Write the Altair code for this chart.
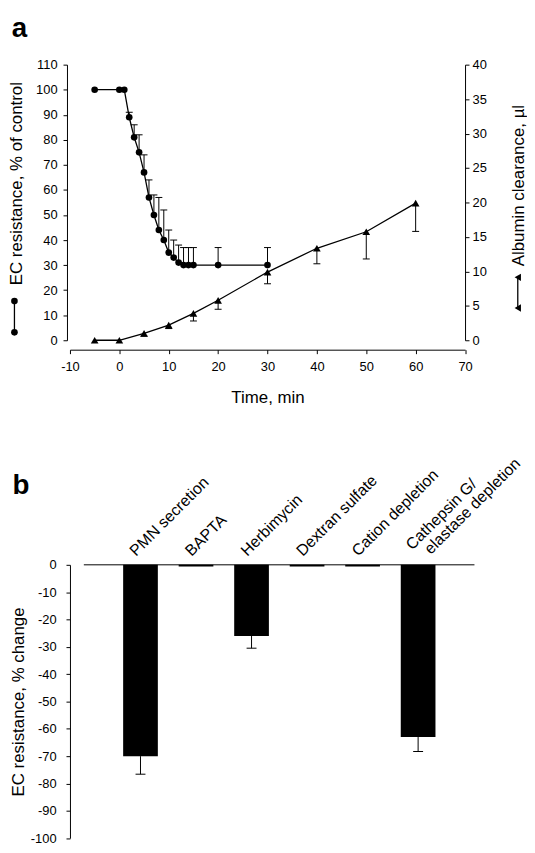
import altair as alt
import pandas as pd

FONT = "Liberation Sans"

# ---------------- Panel a data ----------------
ec_time = [-5, 0, 1, 2, 3, 4, 5, 6, 7, 8, 9, 10, 11, 12, 13, 14, 15, 20, 30]
ec_value = [100, 100, 100, 89, 81, 75, 67, 57, 50, 44, 40, 35, 33, 31, 30, 30, 30, 30, 30]
ec_upper = [None, None, None, 91, 86, 82, 74, 64, 58, 57, 52, 44, 40, 38, 37, 37, 37, 37, 37]

alb_time = [-5, 0, 5, 10, 15, 20, 30, 40, 50, 60]
alb_value = [0, 0, 1.0, 2.2, 3.9, 5.8, 9.9, 13.35, 15.75, 19.9]
alb_lower = [None, None, 0.6, 1.7, 2.8, 4.5, 8.2, 11.1, 11.8, 15.8]

time_ticks = [-10, 0, 10, 20, 30, 40, 50, 60, 70]
left_ticks = [0, 10, 20, 30, 40, 50, 60, 70, 80, 90, 100, 110]
right_ticks = [0, 5, 10, 15, 20, 25, 30, 35, 40]

# ---------------- Panel b data ----------------
treatments = ["PMN secretion", "BAPTA", "Herbimycin", "Dextran sulfate",
              "Cation depletion", "Cathepsin G/ elastase depletion"]
label_line1 = ["PMN secretion", "BAPTA", "Herbimycin", "Dextran sulfate",
               "Cation depletion", "Cathepsin G/"]
label_line2 = ["", "", "", "", "", "elastase depletion"]
change = [-70, -0.6, -26, -0.6, -0.6, -63]
change_low = [-76.6, None, -30.5, None, None, -68.3]
change_ticks = [-100, -90, -80, -70, -60, -50, -40, -30, -20, -10, 0]

# ---------------- tables ----------------
ec_df = pd.DataFrame({"t": ec_time, "v": ec_value, "up": ec_upper})
alb_df = pd.DataFrame({"t": alb_time, "v": alb_value, "lo": alb_lower})
b_df = pd.DataFrame({"cat": treatments, "val": change, "low": change_low,
                     "l1": label_line1, "l2": label_line2})
one = pd.DataFrame({"k": [0]})

PLAIN = "'' + datum.value"   # hyphen-minus labels like the original

# ---------------- Panel a ----------------
W1, H1 = 398.5, 278
xs = alt.Scale(domain=[-10, 70], nice=False)
ys_l = alt.Scale(domain=[0, 110], nice=False)
ys_r = alt.Scale(domain=[0, 40], nice=False)

x_axis = alt.Axis(values=time_ticks, tickCount=len(time_ticks) + 1, offset=9.5,
                  tickSize=4, labelPadding=7,
                  labelFlush=False, labelOverlap=False, labelExpr=PLAIN,
                  title="Time, min", titleY=40, titleBaseline="top")
left_axis = alt.Axis(values=left_ticks, tickCount=len(left_ticks) + 1, offset=3,
                     tickSize=4, labelPadding=6, labelFlush=False,
                     labelOverlap=False, labelExpr=PLAIN,
                     title="EC resistance, % of control",
                     titleAngle=270, titleBaseline="bottom", titleAlign="center",
                     titleX=-42.3, titleY=119.5)
right_axis = alt.Axis(values=right_ticks, tickCount=len(right_ticks) + 1,
                      orient="right", tickSize=4,
                      labelPadding=3, labelFlush=False, labelOverlap=False,
                      labelExpr=PLAIN,
                      title="Albumin clearance, \u00b5l",
                      titleAngle=270, titleBaseline="bottom", titleAlign="center",
                      titleX=63, titleY=121.5)

ec_base = alt.Chart(ec_df)
ec_line = ec_base.mark_line(color="black", strokeWidth=1.3).encode(
    x=alt.X("t:Q", scale=xs, axis=x_axis),
    y=alt.Y("v:Q", scale=ys_l, axis=left_axis),
)
ec_err = ec_base.transform_filter("isValid(datum.up)").mark_rule(
    color="black", strokeWidth=1).encode(
    x=alt.X("t:Q", scale=xs, axis=x_axis),
    y=alt.Y("v:Q", scale=ys_l, axis=left_axis), y2="up:Q")
ec_cap = ec_base.transform_filter("isValid(datum.up)").mark_tick(
    orient="horizontal", size=7, thickness=1, color="black", opacity=1).encode(
    x=alt.X("t:Q", scale=xs, axis=x_axis),
    y=alt.Y("up:Q", scale=ys_l, axis=left_axis))
ec_pts = ec_base.mark_point(shape="circle", filled=True, size=45,
                            color="black", opacity=1).encode(
    x=alt.X("t:Q", scale=xs, axis=x_axis),
    y=alt.Y("v:Q", scale=ys_l, axis=left_axis))
left_layer = alt.layer(ec_err, ec_cap, ec_line, ec_pts)

alb_base = alt.Chart(alb_df)
alb_line = alb_base.mark_line(color="black", strokeWidth=1.3).encode(
    x=alt.X("t:Q", scale=xs, axis=x_axis),
    y=alt.Y("v:Q", scale=ys_r, axis=right_axis),
)
alb_err = alb_base.transform_filter("isValid(datum.lo)").mark_rule(
    color="black", strokeWidth=1).encode(
    x=alt.X("t:Q", scale=xs, axis=x_axis),
    y=alt.Y("v:Q", scale=ys_r, axis=right_axis), y2="lo:Q")
alb_cap = alb_base.transform_filter("isValid(datum.lo)").mark_tick(
    orient="horizontal", size=7, thickness=1, color="black", opacity=1).encode(
    x=alt.X("t:Q", scale=xs, axis=x_axis),
    y=alt.Y("lo:Q", scale=ys_r, axis=right_axis))
alb_pts = alb_base.mark_point(shape="triangle-up", filled=True, size=60,
                              color="black", opacity=1).encode(
    x=alt.X("t:Q", scale=xs, axis=x_axis),
    y=alt.Y("v:Q", scale=ys_r, axis=right_axis))
right_layer = alt.layer(alb_err, alb_cap, alb_line, alb_pts)


# legend-like symbols next to the axis titles
def symbol_key(xpos, y1, y2, shape, size):
    line = alt.Chart(one).mark_rule(color="black", strokeWidth=1.3).encode(
        x=alt.value(xpos), y=alt.value(y1), y2=alt.value(y2))
    p1 = alt.Chart(one).mark_point(shape=shape, filled=True, size=size,
                                   color="black", opacity=1).encode(
        x=alt.value(xpos), y=alt.value(y1))
    p2 = alt.Chart(one).mark_point(shape=shape, filled=True, size=size,
                                   color="black", opacity=1).encode(
        x=alt.value(xpos), y=alt.value(y2))
    return alt.layer(line, p1, p2)


key_left = symbol_key(-56, 238.5, 270, "circle", 45)
key_right = symbol_key(451.7, 214.5, 245.5, "triangle-left", 55)

letter_a = alt.Chart(pd.DataFrame({"s": ["a"]})).mark_text(
    font=FONT, fontSize=28, fontWeight="bold", align="left",
    baseline="alphabetic", color="black").encode(
    text="s:N", x=alt.value(-58.7), y=alt.value(-28))

top = alt.layer(left_layer, right_layer, key_left, key_right, letter_a).resolve_scale(
    y="independent").properties(width=W1, height=H1)

# ---------------- Panel b ----------------
W2, H2 = 408, 275.7
xb = alt.Scale(domain=treatments, paddingInner=0.375, paddingOuter=0.83, align=0.577)
yb = alt.Scale(domain=[-100, 0], nice=False)
b_axis = alt.Axis(values=change_ticks, tickCount=len(change_ticks) + 1, tickSize=4,
                  labelPadding=10, labelFlush=False, labelOverlap=False,
                  labelExpr=PLAIN,
                  title="EC resistance, % change",
                  titleAngle=270, titleBaseline="bottom", titleAlign="center",
                  titleX=-43.3)

b_base = alt.Chart(b_df)
bars = b_base.mark_bar(color="black").encode(
    x=alt.X("cat:N", scale=xb, sort=treatments, axis=None),
    y=alt.Y("val:Q", scale=yb, axis=b_axis),
)
b_err = b_base.transform_filter("isValid(datum.low)").mark_rule(
    color="black", strokeWidth=1).encode(
    x=alt.X("cat:N", scale=xb, sort=treatments, axis=None),
    y=alt.Y("val:Q", scale=yb, axis=b_axis), y2="low:Q")
b_cap = b_base.transform_filter("isValid(datum.low)").mark_tick(
    orient="horizontal", size=10, thickness=1, color="black", opacity=1).encode(
    x=alt.X("cat:N", scale=xb, sort=treatments, axis=None),
    y=alt.Y("low:Q", scale=yb, axis=b_axis))
zero_line = alt.Chart(one).mark_rule(color="black", strokeWidth=1).encode(
    y=alt.datum(0), x=alt.value(14), x2=alt.value(W2))

txt_kw = dict(font=FONT, fontSize=16, angle=315, align="left",
              baseline="alphabetic", color="black")
lab_single = b_base.transform_filter("datum.l2 == ''").mark_text(
    dx=2.5, dy=-8.8, **txt_kw).encode(
    x=alt.X("cat:N", scale=xb, sort=treatments, axis=None), y=alt.datum(0), text="l1:N")
lab_first = b_base.transform_filter("datum.l2 != ''").mark_text(
    dx=5.9, dy=-14.3, **txt_kw).encode(
    x=alt.X("cat:N", scale=xb, sort=treatments, axis=None), y=alt.datum(0), text="l1:N")
lab_second = b_base.transform_filter("datum.l2 != ''").mark_text(
    dx=16.1, dy=2.0, **txt_kw).encode(
    x=alt.X("cat:N", scale=xb, sort=treatments, axis=None), y=alt.datum(0), text="l2:N")

letter_b = alt.Chart(pd.DataFrame({"s": ["b"]})).mark_text(
    font=FONT, fontSize=28, fontWeight="bold", align="left",
    baseline="alphabetic", color="black").encode(
    text="s:N", x=alt.value(-58), y=alt.value(-71))

bottom = alt.layer(bars, b_err, b_cap, zero_line, lab_single, lab_first,
                   lab_second, letter_b).properties(width=W2, height=H2)

chart = alt.vconcat(top, bottom, spacing=226.5, bounds="flush").properties(
    padding={"left": -1.5, "top": 3.5, "right": 0, "bottom": 0}
).configure_view(stroke=None).configure_axis(
    labelFont=FONT, titleFont=FONT, labelFontSize=13, titleFontSize=17,
    titleFontWeight="normal", labelColor="black", titleColor="black",
    domainColor="black", tickColor="black", domainWidth=1, tickWidth=1,
    grid=False,
)

chart.save("out.html", embed_options={"renderer": "svg", "actions": False})
